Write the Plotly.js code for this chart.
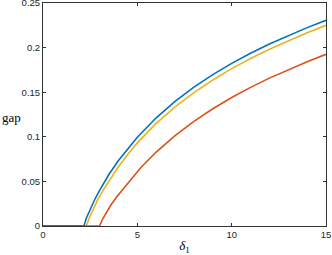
<!DOCTYPE html>
<html>
<head>
<meta charset="utf-8">
<script src="https://cdn.plot.ly/plotly-3.0.1.min.js"></script>
<style>
html,body{margin:0;padding:0;background:#fff;}
#chart{width:332px;height:255px;}
</style>
</head>
<body>
<div id="chart"></div>
<script>
// delta_1 values and gap values
var blueX = [0, 2.17, 2.3, 2.5, 2.75, 3, 3.5, 4, 4.5, 5, 6, 7, 8, 9, 10, 11, 12, 13, 14, 15];
var blueY = [0, 0, 0.009, 0.019, 0.030, 0.040, 0.058, 0.0735, 0.087, 0.0996, 0.1213, 0.1397, 0.1556, 0.1697, 0.1823, 0.1937, 0.2040, 0.2136, 0.2224, 0.2306];

var yellowX = [0, 2.3, 2.45, 2.65, 2.9, 3.2, 3.6, 4, 4.5, 5, 6, 7, 8, 9, 10, 11, 12, 13, 14, 15];
var yellowY = [0, 0, 0.009, 0.019, 0.0295, 0.0405, 0.0538, 0.0664, 0.0805, 0.0932, 0.1151, 0.1336, 0.1496, 0.1637, 0.1764, 0.1878, 0.1982, 0.2079, 0.2167, 0.225];

var redX = [0, 3, 3.15, 3.35, 3.6, 3.9, 4.3, 4.7, 5.2, 6, 7, 8, 9, 10, 11, 12, 13, 14, 15];
var redY = [0, 0, 0.0075, 0.015, 0.0235, 0.0325, 0.0431, 0.0537, 0.0658, 0.0829, 0.1013, 0.1173, 0.1314, 0.144, 0.1554, 0.1658, 0.1754, 0.1842, 0.1925];

var xTicks = [0, 5, 10, 15];
var yTicks = [0, 0.05, 0.1, 0.15, 0.2, 0.25];

var axisColor = '#333333';
var tickFont = {family: 'Liberation Sans, Arial, Helvetica, sans-serif', size: 9.5, color: '#262626'};

var traces = [
  {x: yellowX, y: yellowY, mode: 'lines', line: {color: '#EDB120', width: 1.6}, hoverinfo: 'skip', cliponaxis: false},
  {x: redX, y: redY, mode: 'lines', line: {color: '#D95319', width: 1.6}, hoverinfo: 'skip', cliponaxis: false},
  {x: blueX, y: blueY, mode: 'lines', line: {color: '#0072BD', width: 1.6}, hoverinfo: 'skip', cliponaxis: false}
];

var layout = {
  width: 332, height: 255,
  margin: {l: 43, r: 6, t: 3, b: 29},
  paper_bgcolor: '#ffffff', plot_bgcolor: '#ffffff',
  showlegend: false,
  xaxis: {
    range: [0, 15], tickvals: xTicks, ticktext: xTicks.map(String),
    showgrid: false, zeroline: false,
    showline: true, linecolor: axisColor, linewidth: 1, mirror: 'ticks',
    ticks: 'inside', ticklen: 3, tickcolor: axisColor, tickwidth: 1,
    tickfont: tickFont, layer: 'below traces', ticklabeloverflow: 'allow',
    title: {text: '<i>δ</i><sub>1</sub>', font: {family: 'Liberation Serif, Times New Roman, serif', size: 13, color: '#000'}, standoff: 6}
  },
  yaxis: {
    range: [0, 0.25], tickvals: yTicks, ticktext: yTicks.map(String),
    showgrid: false, zeroline: false,
    showline: true, linecolor: axisColor, linewidth: 1, mirror: 'ticks',
    ticks: 'inside', ticklen: 3, tickcolor: axisColor, tickwidth: 1,
    tickfont: tickFont, layer: 'below traces', ticklabeloverflow: 'allow'
  },
  annotations: [{
    text: 'gap', xref: 'paper', yref: 'paper', x: -0.153, y: 0.485,
    xanchor: 'left', yanchor: 'middle', showarrow: false,
    font: {family: 'Liberation Serif, Times New Roman, serif', size: 13, color: '#000'}
  }]
};

Plotly.newPlot('chart', traces, layout, {displayModeBar: false, staticPlot: true});
</script>
</body>
</html>
